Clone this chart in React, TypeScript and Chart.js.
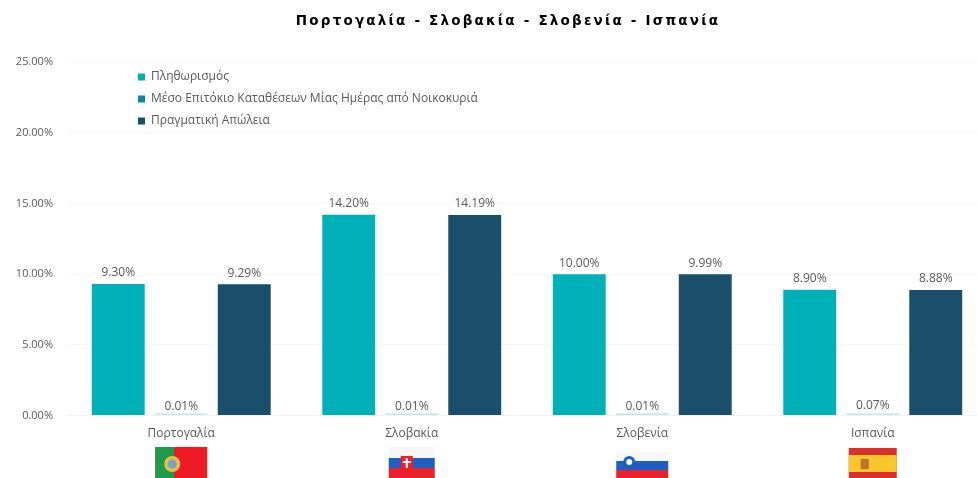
import { useEffect, useRef } from "react";
import { Chart, registerables } from "chart.js";

Chart.register(...registerables);

const titleText = "Πορτογαλία - Σλοβακία - Σλοβενία - Ισπανία";
const categories = ["Πορτογαλία", "Σλοβακία", "Σλοβενία", "Ισπανία"];
const flags = ["pt", "sk", "si", "es"];
const seriesNames = [
  "Πληθωρισμός",
  "Μέσο Επιτόκιο Καταθέσεων Μίας Ημέρας από Νοικοκυριά",
  "Πραγματική Απώλεια",
];
const inflation = [9.3, 14.2, 10.0, 8.9];
const depositRate = [0.01, 0.01, 0.01, 0.07];
const realLoss = [9.29, 14.19, 9.99, 8.88];
const barColors = ["#00b0b9", "#c3e6ec", "#1a4f6b"];
const legendColors = ["#00b0b9", "#0a86a5", "#1a4f6b"];
const TEXT = "#595959";
const FONT = "'Open Sans'";

function drawFlag(ctx: CanvasRenderingContext2D, code: string, cx: number) {
  const bottom = 478;
  if (code === "pt") {
    const top = 447, l = cx - 26, w = 52, h = bottom - top;
    ctx.fillStyle = "#ed1c24";
    ctx.fillRect(l, top, w, h);
    ctx.fillStyle = "#1e9a4a";
    ctx.fillRect(l, top, 19, h);
    ctx.fillStyle = "#e5c14a";
    ctx.beginPath();
    ctx.arc(l + 17, top + 17, 8, 0, Math.PI * 2);
    ctx.fill();
    ctx.fillStyle = "#7f9fc6";
    ctx.beginPath();
    ctx.arc(l + 17, top + 17, 4.5, 0, Math.PI * 2);
    ctx.fill();
  } else if (code === "es") {
    const top = 448, l = cx - 24, w = 48, h = bottom - top;
    ctx.fillStyle = "#d9322c";
    ctx.fillRect(l, top, w, h);
    ctx.fillStyle = "#f9c62c";
    ctx.fillRect(l, top + 7, w, 17);
    ctx.fillStyle = "#c0702a";
    ctx.fillRect(l + 12, top + 11, 8, 10);
  } else if (code === "sk") {
    const l = cx - 23, w = 46;
    ctx.fillStyle = "#f7f7f7";
    ctx.fillRect(l, 447, w, 11);
    ctx.fillStyle = "#1f5fc4";
    ctx.fillRect(l, 458, w, 10);
    ctx.fillStyle = "#e8212b";
    ctx.fillRect(l, 468, w, 10);
    ctx.fillRect(l + 12, 456, 12, 14);
    ctx.fillStyle = "#ffffff";
    ctx.fillRect(l + 17, 458, 2, 10);
    ctx.fillRect(l + 14, 461, 8, 2);
  } else {
    const l = cx - 26, w = 52;
    ctx.fillStyle = "#f7f7f7";
    ctx.fillRect(l, 452, w, 9);
    ctx.fillStyle = "#1f5fc4";
    ctx.fillRect(l, 461, w, 9);
    ctx.fillStyle = "#e8212b";
    ctx.fillRect(l, 470, w, 8);
    ctx.fillStyle = "#1f5fc4";
    ctx.beginPath();
    ctx.arc(l + 13, 462, 6, 0, Math.PI * 2);
    ctx.fill();
    ctx.fillStyle = "#ffffff";
    ctx.beginPath();
    ctx.arc(l + 13, 462, 3, 0, Math.PI * 2);
    ctx.fill();
  }
}

const customPlugin = {
  id: "custom",
  afterLayout(chart: any) {
    const lg = chart.legend;
    if (lg) {
      const dx = 128 - lg.left;
      const dy = 61 - lg.top;
      lg.left += dx; lg.right += dx; lg.top += dy; lg.bottom += dy;
      lg.legendHitBoxes?.forEach((b: any) => { b.left += dx; b.top += dy; });
    }
    const tb = chart.titleBlock;
    if (tb && !tb.__wrapped) {
      const orig = tb.draw.bind(tb);
      tb.draw = () => {
        const c = chart.ctx;
        c.save();
        c.translate(14, 0);
        c.letterSpacing = "2.2px";
        orig();
        c.restore();
      };
      tb.__wrapped = true;
    }
  },
  afterDatasetsDraw(chart: any) {
    const { ctx } = chart;
    const ys = chart.scales.y;
    ctx.save();
    ctx.font = `12px ${FONT}`;
    ctx.fillStyle = TEXT;
    ctx.textAlign = "center";
    ctx.textBaseline = "middle";
    chart.data.datasets.forEach((ds: any, i: number) => {
      chart.getDatasetMeta(i).data.forEach((bar: any, j: number) => {
        const v = ds.data[j];
        ctx.fillText(v.toFixed(2) + "%", bar.x, ys.getPixelForValue(v) - (v < 1 ? 9 : 11));
      });
    });
    const xs = chart.scales.x;
    flags.forEach((f, i) => drawFlag(ctx, f, xs.getPixelForTick(i)));
    ctx.restore();
  },
};

export default function App() {
  const ref = useRef<HTMLCanvasElement>(null);
  useEffect(() => {
    document.body.style.margin = "0";
    const chart = new Chart(ref.current!, {
      type: "bar",
      data: {
        labels: categories,
        datasets: [inflation, depositRate, realLoss].map((data, i) => ({
          label: seriesNames[i],
          data,
          backgroundColor: barColors[i],
          barPercentage: 0.84,
          categoryPercentage: 0.82,
          minBarLength: 2,
        })),
      },
      options: {
        responsive: false,
        animation: false,
        layout: { padding: { left: 0, right: 28, top: 0, bottom: 0 } },
        plugins: {
          title: {
            display: true,
            text: titleText,
            color: "#000000",
            font: { family: "'DejaVu Sans'", size: 13.5, weight: "bold" },
            padding: { top: 13, bottom: 33 },
          },
          tooltip: { enabled: false },
          legend: {
            display: true,
            position: "chartArea" as any,
            align: "start",
            labels: {
              boxWidth: 7,
              boxHeight: 7,
              padding: 10,
              color: TEXT,
              font: { family: FONT, size: 12 },
              generateLabels: () =>
                seriesNames.map((text, i) => ({
                  text,
                  fillStyle: legendColors[i],
                  strokeStyle: legendColors[i],
                  lineWidth: 0,
                  datasetIndex: i,
                  fontColor: TEXT,
                })),
            },
          },
        },
        scales: {
          x: {
            grid: { display: false, tickLength: 0 },
            border: { color: "#f2f2f2" },
            afterFit(axis: any) { axis.height = 62.5; },
            ticks: {
              color: TEXT,
              font: { family: FONT, size: 12 },
              padding: 11,
              maxRotation: 0,
            },
          },
          y: {
            min: 0,
            max: 25,
            grid: { color: "#f8f8f8", drawTicks: false },
            border: { display: false },
            afterFit(axis: any) { axis.width = 66; },
            ticks: {
              stepSize: 5,
              padding: 13,
              color: TEXT,
              font: { family: FONT, size: 11 },
              callback: (v: any) => Number(v).toFixed(2) + "%",
            },
          },
        },
      },
      plugins: [customPlugin],
    });
    return () => chart.destroy();
  }, []);
  return (
    <div style={{ width: 977, height: 478, overflow: "hidden", background: "#fff" }}>
      <canvas ref={ref} width={1016} height={478} style={{ display: "block", filter: "blur(0.6px)" }} />
    </div>
  );
}
